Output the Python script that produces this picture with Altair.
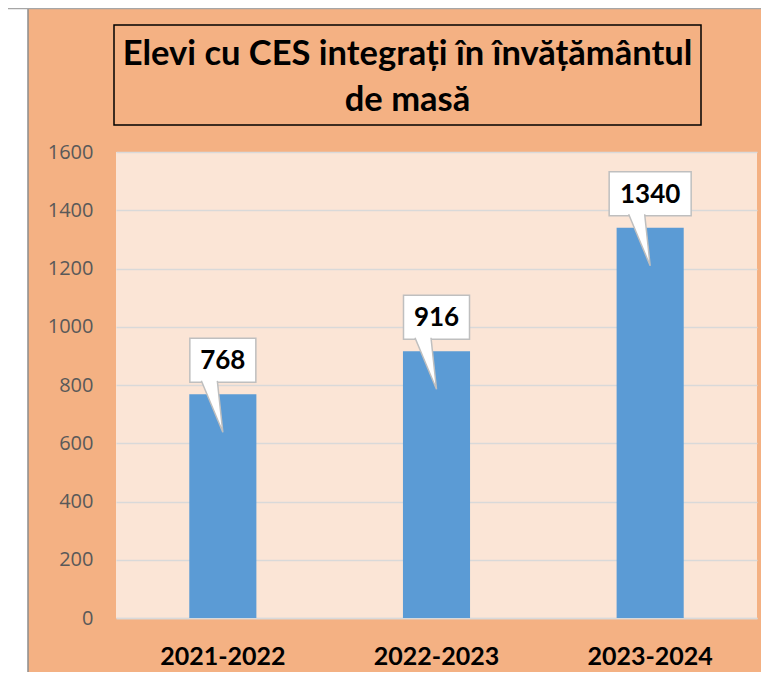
import altair as alt
import pandas as pd

# ---- data ----
years = ["2021-2022", "2022-2023", "2023-2024"]
counts = [768, 916, 1340]
y_ticks = [0, 200, 400, 600, 800, 1000, 1200, 1400, 1600]
title_lines = ["Elevi cu CES integrați în învățământul", "de masă"]

df = pd.DataFrame({"an": years, "elevi": counts})
one = pd.DataFrame({"k": [0]})

ORANGE = "#F4B183"
PEACH = "#FBE5D6"
BLUE = "#5B9BD5"

x_enc = alt.X(
    "an:N", sort=None, title=None,
    scale=alt.Scale(paddingInner=0.686, paddingOuter=0.343),
    axis=alt.Axis(labelFont="Lato", labelFontWeight="bold", labelFontSize=25,
                  labelColor="#000000", labelAngle=0, ticks=False,
                  labelBaseline="middle", labelPadding=38,
                  domainColor="#D9D9D9", domainWidth=1.5),
)
y_enc = alt.Y(
    "elevi:Q", title=None,
    scale=alt.Scale(domain=[0, 1600], nice=False),
    axis=alt.Axis(values=y_ticks, format="d", labelFont="Open Sans",
                  labelFontSize=20, labelColor="#595959", ticks=False,
                  domain=False, labelPadding=23, gridColor="#D9D9D9",
                  gridWidth=1.5),
)

base = alt.Chart(df)

bars = base.mark_bar(color=BLUE).encode(x=x_enc, y=y_enc)

boxes = base.transform_calculate(
    bw="18 + 16 * length(toString(datum.elevi))"
).mark_bar(fill="white", stroke="#BFBFBF", strokeWidth=1.5,
           yOffset=-12, y2Offset=-56).encode(
    x=alt.X("an:N", sort=None),
    y="elevi:Q",
    y2="elevi:Q",
    size=alt.Size("bw:Q", scale=None, legend=None),
)

pointers = base.mark_point(
    shape="M -21.5 -13.5 L 0 38 L -5.5 -13.5",
    size=4, filled=True, fill="white", stroke="#BFBFBF", strokeWidth=1.5,
    opacity=1,
).encode(x=alt.X("an:N", sort=None), y="elevi:Q")

labels = base.mark_text(
    font="Lato", fontWeight="bold", fontSize=26, color="black",
    baseline="middle", dy=-33,
).encode(x=alt.X("an:N", sort=None), y="elevi:Q", text="elevi:Q")

# decorations outside the plot area
strip = alt.Chart(one).mark_rect(color="white").encode(
    x=alt.value(-108), x2=alt.value(-88), y=alt.value(-144), y2=alt.value(520)
)
left_line = alt.Chart(one).mark_rule(color="#8C8C8C", strokeWidth=1.5).encode(
    x=alt.value(-88), y=alt.value(-144), y2=alt.value(520)
)
top_line = alt.Chart(one).mark_rule(color="#A6A6A6", strokeWidth=1.5).encode(
    y=alt.value(-143.5), x=alt.value(-108), x2=alt.value(645)
)
title_box = alt.Chart(one).mark_rect(
    fill="transparent", stroke="black", strokeWidth=1.5
).encode(x=alt.value(-2), x2=alt.value(585), y=alt.value(-127), y2=alt.value(-27))

title_text = alt.Chart(one).mark_text(
    text=title_lines, font="Lato", fontWeight="bold", fontSize=34.5,
    color="black", align="center", baseline="alphabetic", lineHeight=46,
).encode(x=alt.value(291.5), y=alt.value(-87))

chart = alt.layer(
    bars, boxes, pointers, labels,
    strip, left_line, top_line, title_box, title_text,
).properties(
    width=641, height=466,
    autosize=alt.AutoSizeParams(type="none"),
    padding={"left": 108, "top": 144, "right": 4, "bottom": 54},
    background=ORANGE,
).configure_view(fill=PEACH, stroke=None)

chart.save("out.html", embed_options={"renderer": "svg", "actions": False})
